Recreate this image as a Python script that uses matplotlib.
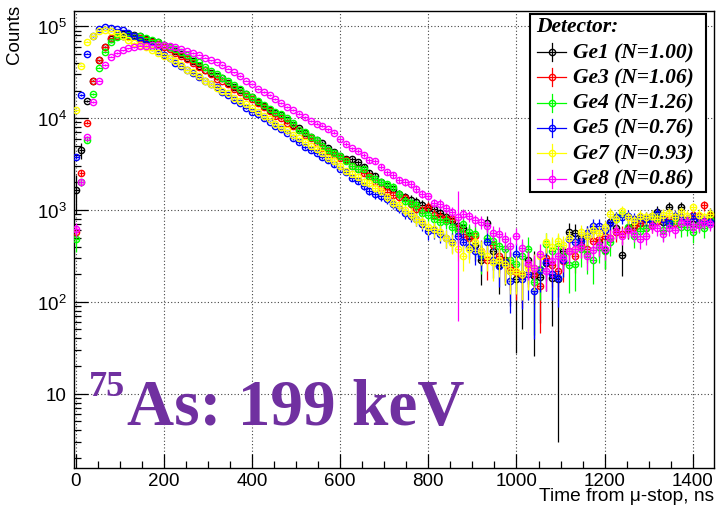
import numpy as np
import matplotlib
matplotlib.use("Agg")
import matplotlib.pyplot as plt
from matplotlib.lines import Line2D
from matplotlib.patches import Rectangle
from matplotlib.ticker import MultipleLocator, LogLocator, NullFormatter, FuncFormatter

plt.rcParams['font.family'] = ['Liberation Sans', 'DejaVu Sans']
plt.rcParams['mathtext.fontset'] = 'custom'
plt.rcParams['mathtext.rm'] = 'Liberation Sans'
plt.rcParams['mathtext.default'] = 'regular'

# bins of 13.33 ns, centres from 0 to 1440 ns
bin_width = 13.33
time_ns = np.arange(109) * bin_width

ge1 = [1660, 4470, 15500, 25700, 42700, 60300, 72400, 79400, 83200, 83200,
       81300, 77600, 72400, 69200, 67600, 63100, 58900, 53700, 50100, 45700,
       41700, 37200, 33900, 30900, 28800, 27500, 24000, 21900, 20400, 18200,
       17000, 15100, 13500, 12300, 11500, 10700, 9550, 8510, 7760, 6920,
       6170, 5750, 5370, 4790, 4270, 3890, 3630, 3550, 3310, 2950,
       2510, 2340, 2000, 1820, 1700, 1480, 1380, 1290, 1230, 1120,
       1050, 1020, 933, 832, 759, 676, 631, 525, 417, 282,
       724, 355, 251, 282, 219, 178, 200, 288, 191, 186,
       263, 182, 178, 355, 575, 562, 501, 525, 603, 447,
       363, 741, 631, 324, 631, 692, 724, 794, 851, 955,
       741, 1070, 832, 1070, 794, 708, 741, 759, 891]
ge3 = [575, 2510, 8910, 25700, 42700, 58900, 74100, 77600, 79400, 79400,
       77600, 74100, 70800, 67600, 64600, 60300, 56200, 51300, 47900, 43700,
       39800, 36300, 33900, 30200, 26900, 25700, 23400, 20900, 19500, 17400,
       16200, 14500, 13200, 12000, 10500, 10000, 8910, 8130, 7410, 6610,
       6030, 5370, 4790, 4370, 3980, 3720, 3470, 3020, 2820, 2510,
       2340, 2000, 1740, 1580, 1450, 1380, 1350, 1150, 1020, 1000,
       1070, 891, 832, 794, 794, 631, 550, 501, 525, 355,
       282, 417, 316, 275, 240, 209, 191, 251, 200, 148,
       302, 251, 219, 275, 355, 316, 417, 380, 457, 479,
       525, 501, 575, 550, 617, 661, 724, 631, 692, 759,
       794, 794, 724, 832, 759, 891, 851, 1120, 871]
ge4 = [479, 2000, 5750, 18200, 35500, 52500, 67600, 75900, 79400, 81300,
       79400, 77600, 74100, 70800, 67600, 63100, 60300, 56200, 52500, 49000,
       43700, 40700, 36300, 32400, 30200, 27500, 25100, 22900, 20900, 18200,
       17000, 15500, 13800, 12600, 11700, 11200, 10000, 8910, 7410, 7080,
       6310, 5750, 5010, 4470, 4170, 3890, 3390, 3020, 2820, 2820,
       2290, 2190, 2000, 1910, 1780, 1480, 1260, 1200, 1120, 933,
       891, 794, 741, 759, 661, 589, 708, 575, 550, 331,
       501, 457, 407, 372, 282, 257, 316, 380, 166, 229,
       427, 355, 407, 316, 251, 257, 372, 331, 282, 398,
       355, 447, 794, 912, 661, 525, 589, 631, 759, 832,
       603, 708, 759, 646, 661, 575, 708, 631, 794]
ge5 = [3800, 17800, 50100, 77600, 93300, 97700, 95500, 93300, 91200, 85100,
       77600, 70800, 64600, 58900, 53700, 49000, 44700, 39800, 37200, 33900,
       30900, 28200, 25700, 23400, 21900, 19500, 17800, 15800, 14800, 12900,
       11700, 11000, 10000, 9120, 8320, 7590, 6920, 6030, 5500, 4900,
       4470, 4170, 3800, 3470, 3160, 2820, 2570, 2240, 2090, 1820,
       1620, 1480, 1410, 1320, 1170, 1050, 933, 871, 794, 708,
       589, 603, 550, 501, 447, 525, 447, 398, 355, 316,
       447, 282, 245, 269, 170, 331, 178, 200, 132, 224,
       269, 200, 182, 288, 479, 447, 457, 562, 676, 676,
       603, 724, 832, 832, 871, 794, 832, 794, 759, 912,
       794, 724, 851, 832, 759, 871, 794, 759, 741]
ge7 = [12300, 37200, 67600, 79400, 89100, 91200, 89100, 85100, 77600, 70800,
       66100, 63100, 58900, 55000, 51300, 47900, 45700, 41700, 38000, 33900,
       31600, 28800, 25700, 23400, 21400, 20000, 18600, 16600, 15500, 14100,
       12900, 11700, 10500, 9770, 8710, 7940, 7410, 6610, 6030, 5500,
       5010, 4570, 4170, 3720, 3390, 3020, 2630, 2450, 2290, 2040,
       1950, 1740, 1620, 1380, 1200, 1120, 1000, 912, 794, 741,
       646, 617, 575, 501, 437, 380, 316, 372, 447, 355,
       316, 269, 288, 257, 219, 219, 200, 234, 234, 316,
       447, 398, 457, 417, 501, 380, 575, 525, 603, 562,
       646, 912, 794, 977, 832, 759, 871, 832, 871, 794,
       891, 933, 832, 955, 871, 1070, 891, 832, 912]
ge8 = [617, 2000, 6170, 15100, 25700, 38000, 46800, 51300, 55000, 57500,
       58900, 61700, 61700, 63100, 63100, 63100, 61700, 58900, 56200, 53700,
       51300, 49000, 45700, 42700, 40700, 38000, 34700, 31600, 28800, 25700,
       23400, 20900, 19100, 17800, 16200, 14800, 13200, 12300, 11200, 10200,
       9330, 8710, 8320, 7590, 6920, 5890, 5250, 4680, 4370, 3980,
       3470, 3390, 2950, 2570, 2400, 2140, 2000, 1910, 1700, 1510,
       1410, 1200, 1170, 1050, 955, 832, 912, 851, 776, 741,
       676, 562, 550, 479, 407, 525, 389, 263, 234, 331,
       219, 275, 316, 302, 355, 372, 398, 316, 363, 417,
       380, 501, 589, 525, 603, 550, 479, 525, 676, 631,
       550, 631, 603, 724, 741, 661, 692, 741, 708]

detectors = ["Ge1", "Ge3", "Ge4", "Ge5", "Ge7", "Ge8"]
norms = ["1.00", "1.06", "1.26", "0.76", "0.93", "0.86"]
series = [ge1, ge3, ge4, ge5, ge7, ge8]
colors = ["black", "#ff0000", "#00ff00", "#0000ff", "#ffff00", "#ff00ff"]
# background-subtraction error level per detector (counts)
noise = [120, 95, 115, 85, 85, 75]
# a few bins with unusually large errors
big_err = {(0, 0): 750, (0, 1): 900, (0, 75): 150, (0, 78): 165,
           (0, 82): 175, (0, 76): 150, (5, 65): 770}

W, H = 716, 510
fig = plt.figure(figsize=(W / 100, H / 100), dpi=100)

def fx(px):
    return px / W

def fy(py):
    return 1 - py / H

ax = fig.add_axes([fx(73.8), fy(469), fx(714) - fx(73.8), fy(12) - fy(469)])
ax.set_yscale('log')

for k, vals in enumerate(series):
    v = np.array(vals, dtype=float)
    err = np.sqrt(noise[k] ** 2 + 10 * v)
    for (s, i), e in big_err.items():
        if s == k:
            err[i] = e
    ax.errorbar(time_ns, v, yerr=err, xerr=bin_width / 2, fmt='o', ms=4.5,
                mfc='none', mec=colors[k], mew=1.0, ecolor=colors[k],
                elinewidth=0.9, capsize=0, zorder=3 + k)

ax.set_xlim(-4, 1448)
ax.set_ylim(1.55, 1.47e5)

ax.xaxis.set_major_locator(MultipleLocator(200))
ax.xaxis.set_minor_locator(MultipleLocator(50))
ax.yaxis.set_major_locator(LogLocator(base=10))
ax.yaxis.set_minor_locator(LogLocator(base=10, subs=np.arange(2, 10)))
ax.yaxis.set_minor_formatter(NullFormatter())

def ylab(v, pos):
    e = int(round(np.log10(v)))
    return '10' if e == 1 else r'$10^{%d}$' % e

ax.yaxis.set_major_formatter(FuncFormatter(ylab))
ax.tick_params(which='both', direction='in', top=False, right=False,
               labelsize=13.5, width=0.9)
ax.tick_params(which='major', length=10, pad=5)
ax.tick_params(which='minor', length=5)
ax.tick_params(axis='x', pad=3)
for sp in ax.spines.values():
    sp.set_linewidth(1.0)

ax.grid(True, which='major', linestyle=(0, (1, 2)), color='#444444', lw=0.8)
ax.set_axisbelow(True)

fig.text(fx(714), fy(497), u'Time from \u03bc-stop, ns', ha='right',
         va='center', fontsize=13.8)
fig.text(fx(15), fy(34), 'Counts', rotation=90, ha='center', va='center',
         fontsize=13.5)

purple = '#7030a0'
fig.text(fx(89), fy(396), '75', fontsize=26, fontweight='bold',
         family='Liberation Serif', color=purple, va='baseline', zorder=20)
fig.text(fx(127), fy(425), 'As: 199 keV', fontsize=47, fontweight='bold',
         family='Liberation Serif', color=purple, va='baseline', zorder=20)

# legend box
fig.patches.append(Rectangle((fx(529.5), fy(193)), fx(705.5) - fx(529.5),
                             fy(15) - fy(193), transform=fig.transFigure,
                             facecolor='white', edgecolor='black', lw=1.5,
                             zorder=30))
fig.text(fx(536), fy(27), 'Detector:', fontsize=15.5, fontweight='bold',
         style='italic', family='Liberation Serif', va='center', zorder=31)
row_y = [53, 78, 103.5, 128.5, 154, 179.5]
for k in range(6):
    yy = row_y[k]
    fig.add_artist(Line2D([fx(537), fx(566)], [fy(yy), fy(yy)],
                          color=colors[k], lw=0.9, zorder=31))
    fig.add_artist(Line2D([fx(551.5), fx(551.5)], [fy(yy - 9), fy(yy + 9)],
                          color=colors[k], lw=0.9, zorder=31))
    fig.add_artist(Line2D([fx(551.5)], [fy(yy)], marker='o', ms=4.5,
                          mfc='none', mec=colors[k], mew=1.0, zorder=32))
    fig.text(fx(573), fy(yy), '%s (N=%s)' % (detectors[k], norms[k]),
             fontsize=15.5, fontweight='bold', style='italic',
             family='Liberation Serif', va='center', zorder=31)

fig.savefig('out.png', dpi=100)
